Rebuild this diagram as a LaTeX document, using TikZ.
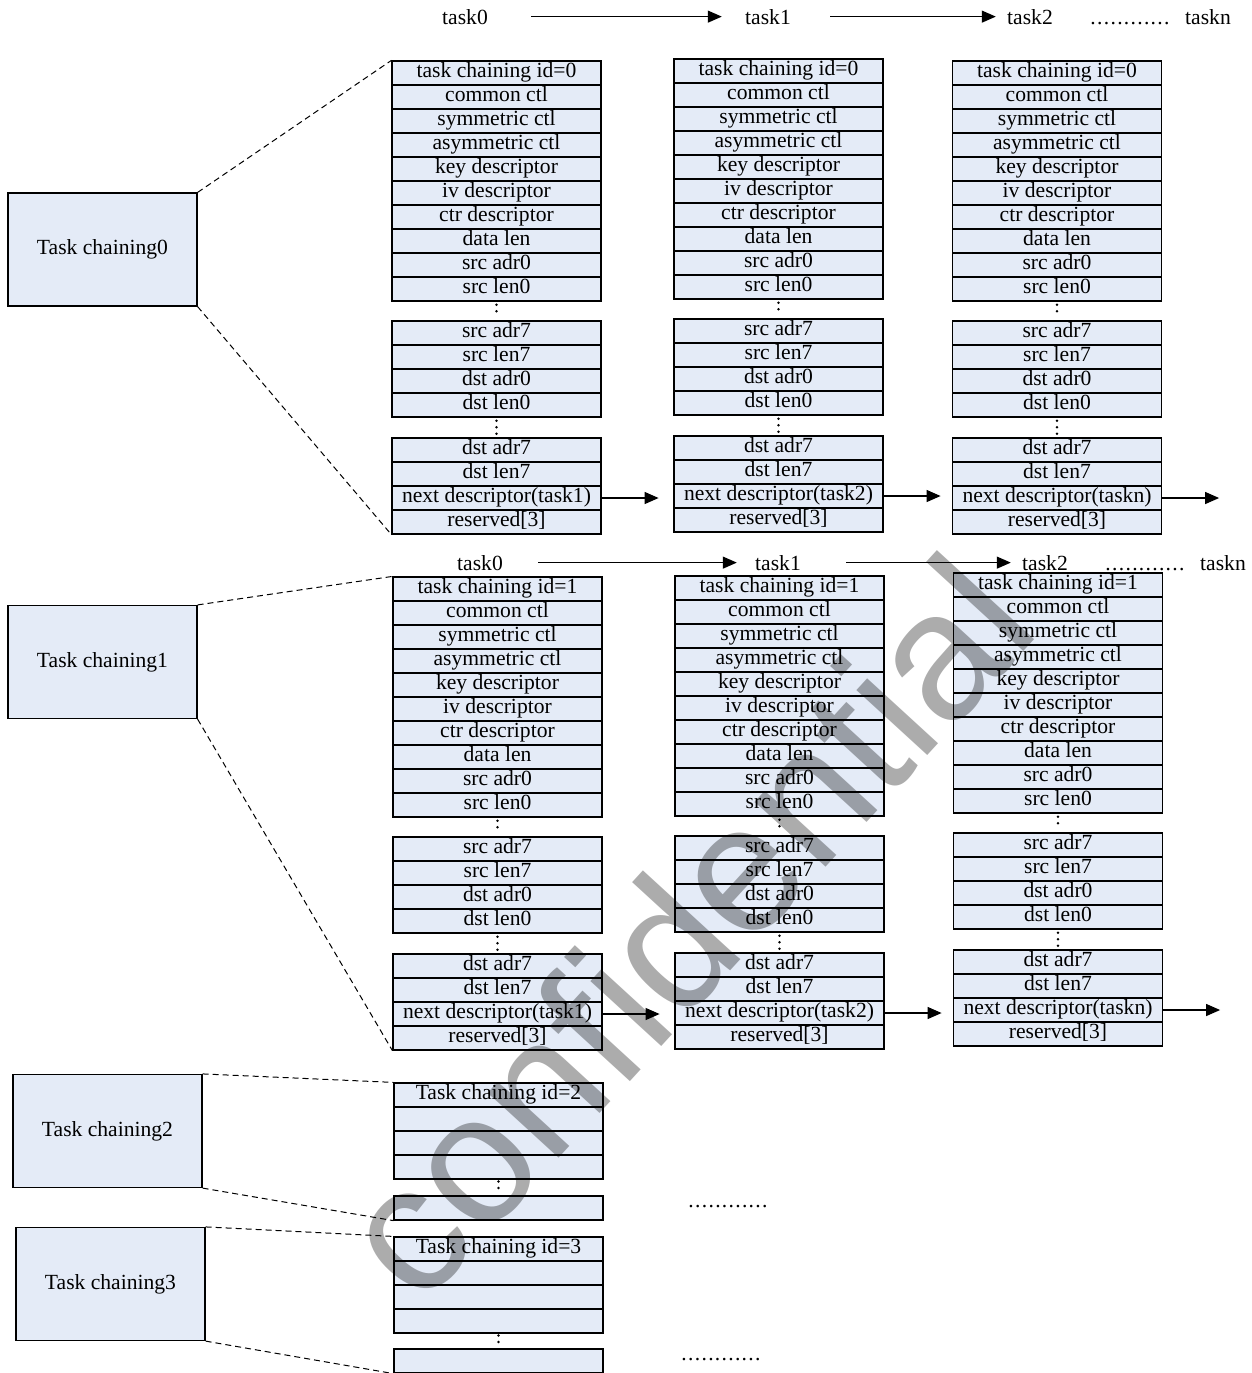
\documentclass[tikz,border=0pt]{standalone}
\usepackage{fontspec}
\setmainfont{Liberation Serif}
\newfontfamily\markfont{Liberation Sans}
\usepackage{tikz}
\usetikzlibrary{arrows.meta}
\definecolor{fieldblue}{RGB}{228,235,247}
\definecolor{markgray}{RGB}{172,172,172}
\newcommand{\descfont}{\fontsize{10.8}{12}\selectfont}
\tikzset{
    field/.style={draw, fill=fieldblue, line width=0.6pt, minimum width=104.5pt, minimum height=12pt, inner sep=0pt, text height=0.7em, text depth=0.22em, font=\descfont}, % 描述符中的一行
    chainbox/.style={draw, fill=fieldblue, line width=0.6pt, minimum width=94.5pt, minimum height=56.5pt, font=\descfont}, % 左侧的任务链方框
    tasklabel/.style={anchor=base, inner sep=0pt, font=\descfont}, % 任务名
    dotrow/.style={anchor=base, inner sep=0pt, font=\descfont\addfontfeature{LetterSpace=6}}, % 横向省略号
    link/.style={-{Triangle[length=7pt, width=6pt]}, line width=0.6pt}, % 实线箭头
    vdots/.style={line width=1.4pt, line cap=round, dash pattern=on 0pt off 3.25pt}, % 竖直省略点
    zoomline/.style={line width=0.5pt, dash pattern=on 3pt off 2pt}, % 放大虚线
    watermark/.style={rotate=47.5, inner sep=0pt, text=markgray, font=\markfont\fontsize{91}{91}\selectfont} % 水印
}
% 一列完整的描述符: 名字, x, 三段的上沿 y, id, 下一个任务
\newcommand{\fieldcol}[7]{%
    \foreach [count=\i] \t in {task chaining id=#6, common ctl, symmetric ctl, asymmetric ctl, key descriptor, iv descriptor, ctr descriptor, data len, src adr0, src len0}
        {\node[field] (#1-\i) at (#2, #3+24*\i-12) {\t};}
    \foreach [count=\i from 11] \t in {src adr7, src len7, dst adr0, dst len0}
        {\node[field] (#1-\i) at (#2, #4+24*\i-252) {\t};}
    \foreach [count=\i from 15] \t in {dst adr7, dst len7, next descriptor(#7), reserved[3]}
        {\node[field] (#1-\i) at (#2, #5+24*\i-348) {\t};}
    \draw[vdots, shorten <=1.6pt, shorten >=1.6pt] (#1-10) -- (#1-11);
    \draw[vdots, shorten <=1.6pt, shorten >=1.6pt] (#1-14) -- (#1-15);
    \coordinate (#1-tip) at ([xshift=28.5pt]#1-17.east);
    \draw[link] (#1-17) -- (#1-tip);
}
% 只画开头几行的描述符
\newcommand{\stubcol}[5]{%
    \node[field] (#1-1) at (#2, #3+12) {Task chaining id=#4};
    \foreach \i in {2,3,4} {\node[field] (#1-\i) at (#2, #3+24*\i-12) {};}
    \node[field] (#1-5) at (#2, #5+12) {};
    \draw[vdots, shorten <=0.9pt, shorten >=0.9pt] (#1-4) -- (#1-5);
}

\begin{document}
\begin{tikzpicture}[x=0.5pt, y=-0.5pt]
    \useasboundingbox (0,0) rectangle (1252,1373);

    % Task chaining0
    \node[tasklabel] (h0-0) at (465,24) {task0};
    \node[tasklabel] (h0-1) at (768,24) {task1};
    \node[tasklabel] (h0-2) at (1030,24) {task2};
    \node[dotrow] (h0-d) at (1130,24) {............};
    \node[tasklabel] (h0-n) at (1208,24) {taskn};
    \draw[link, shorten <=21.5pt, shorten >=11.5pt] (h0-0) -- (h0-1);
    \draw[link, shorten <=19.5pt, shorten >=5.5pt] (h0-1) -- (h0-2);

    \fieldcol{A0}{496.5}{61}{321}{438}{0}{task1}
    \fieldcol{B0}{778.5}{59}{319}{436}{0}{task2}
    \fieldcol{C0}{1057}{61}{321}{438}{0}{taskn}

    \node[chainbox] (tc0) at (102.5,249.5) {Task chaining0};
    \draw[zoomline] (tc0.north east) -- (A0-1.north west);
    \draw[zoomline] (tc0.south east) -- (A0-18.south west);

    % Task chaining1
    \node[tasklabel] (h1-0) at (480,570) {task0};
    \node[tasklabel] (h1-1) at (778,570) {task1};
    \node[tasklabel] (h1-2) at (1045,570) {task2};
    \node[dotrow] (h1-d) at (1145,570) {............};
    \node[tasklabel] (h1-n) at (1223,570) {taskn};
    \draw[link, shorten <=17.5pt, shorten >=9pt] (h1-0) -- (h1-1);
    \draw[link, shorten <=22.5pt, shorten >=5.5pt] (h1-1) -- (h1-2);

    \fieldcol{A1}{497.5}{577}{837}{954}{1}{task1}
    \fieldcol{B1}{779.5}{576}{836}{953}{1}{task2}
    \fieldcol{C1}{1058}{573}{833}{950}{1}{taskn}

    \node[chainbox] (tc1) at (102.5,662) {Task chaining1};
    \draw[zoomline] (tc1.north east) -- (A1-1.north west);
    \draw[zoomline] (tc1.south east) -- (A1-18.south west);

    % Task chaining2, Task chaining3
    \stubcol{S2}{498.5}{1083}{2}{1196}
    \node[chainbox] (tc2) at (107.5,1131) {Task chaining2};
    \draw[zoomline] (tc2.north east) -- (S2-1.north west);
    \draw[zoomline] (tc2.south east) -- (S2-5.south west);
    \node[dotrow] (d2) at (728,1207) {............};

    \stubcol{S3}{498.5}{1237}{3}{1349}
    \node[chainbox] (tc3) at (110.5,1284) {Task chaining3};
    \draw[zoomline] (tc3.north east) -- (S3-1.north west);
    \draw[zoomline] (tc3.south east) -- (S3-5.south west);
    \node[dotrow] (d3) at (721,1360) {............};

    \begin{scope}[blend mode=multiply]
        \node[watermark] (mark) at (684,926) {confidential};
    \end{scope}
\end{tikzpicture}
\end{document}
